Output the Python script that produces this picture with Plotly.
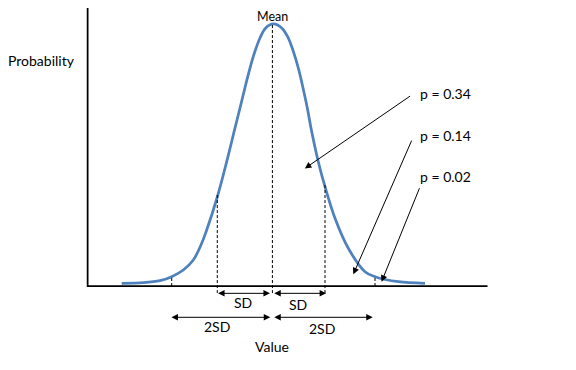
import plotly.graph_objects as go

# ---- data (value scale: mean 100, SD ~15; height relative to the axis height) ----
curve_x = [57.54, 63.66, 68.38, 71.70, 74.98, 77.81, 80.19, 81.60, 84.60, 87.26, 89.61,
           91.03, 92.64, 93.86, 95.27, 96.69, 98.30, 100.45, 102.83, 104.70, 106.11,
           107.53, 108.66, 110.08, 111.12, 113.19, 115.09, 117.92, 121.68, 126.41,
           129.24, 135.83, 143.39]
curve_y = [0.0096, 0.0117, 0.0188, 0.0330, 0.0567, 0.0922, 0.1514, 0.1986, 0.3156, 0.4408, 0.5603,
           0.6312, 0.7138, 0.7730, 0.8323, 0.8794, 0.9149, 0.9291, 0.9149, 0.8794, 0.8323,
           0.7730, 0.7138, 0.6312, 0.5603, 0.4408, 0.3521, 0.2401, 0.1337, 0.0507,
           0.0330, 0.0152, 0.0096]

guide_x = [71.7, 84.6, 100.2, 115.09, 129.24]
guide_top = [0.036, 0.330, 0.929, 0.360, 0.036]
guide_bottom = [0.0, -0.025, -0.025, -0.025, 0.0]

axis_x = [47.9, 161.1]
axis_top = 1.0

sd_labels = ["SD", "SD", "2SD", "2SD"]
sd_start = [84.4, 100.3, 71.2, 100.3]
sd_end = [99.5, 115.4, 99.6, 128.6]
sd_y = [-0.026, -0.026, -0.111, -0.111]
sd_label_x = [91.9, 107.4, 84.4, 114.2]
sd_label_y = [-0.059, -0.064, -0.144, -0.150]

p_labels = ["p = 0.34", "p = 0.14", "p = 0.02"]
p_label_x = [141.5, 141.5, 141.5]
p_label_y = [0.683, 0.535, 0.388]
p_tail_x = [139.6, 139.8, 142.0]
p_tail_y = [0.677, 0.521, 0.352]
p_head_x = [109.4, 123.1, 131.1]
p_head_y = [0.417, 0.0415, 0.0152]

FONT = "Lato"
FS = 14

fig = go.Figure()

# curve
fig.add_trace(go.Scatter(x=curve_x, y=curve_y, mode="lines",
                         line=dict(color="#4F81BD", width=2.75, shape="spline", smoothing=1.0),
                         hoverinfo="skip", showlegend=False))

# dashed guides
for gx, gt, gb in zip(guide_x, guide_top, guide_bottom):
    fig.add_trace(go.Scatter(x=[gx, gx], y=[gb, gt], mode="lines",
                             line=dict(color="black", width=1, dash="3px,2px"),
                             hoverinfo="skip", showlegend=False))

# axes lines
fig.add_trace(go.Scatter(x=[axis_x[0], axis_x[0], axis_x[1]], y=[axis_top, 0, 0], mode="lines",
                         line=dict(color="black", width=1.75),
                         hoverinfo="skip", showlegend=False))

annotations = []
# SD arrows
for s, e, y in zip(sd_start, sd_end, sd_y):
    annotations.append(dict(x=e, y=y, ax=s, ay=y, xref="x", yref="y", axref="x", ayref="y",
                            text="", showarrow=True, arrowhead=2, arrowsize=1.3, arrowwidth=1,
                            arrowside="end+start", arrowcolor="black", standoff=0, startstandoff=0))
for t, x, y in zip(sd_labels, sd_label_x, sd_label_y):
    annotations.append(dict(x=x, y=y, xref="x", yref="y", text=t, showarrow=False,
                            font=dict(family=FONT, size=FS, color="black")))

# p arrows
for tx, ty, hx, hy in zip(p_tail_x, p_tail_y, p_head_x, p_head_y):
    annotations.append(dict(x=hx, y=hy, ax=tx, ay=ty, xref="x", yref="y", axref="x", ayref="y",
                            text="", showarrow=True, arrowhead=2, arrowsize=1.3, arrowwidth=1,
                            arrowcolor="black", standoff=0))
for t, x, y in zip(p_labels, p_label_x, p_label_y):
    annotations.append(dict(x=x, y=y, xref="x", yref="y", text=t, showarrow=False,
                            xanchor="left", font=dict(family=FONT, size=FS, color="black")))

# titles
annotations.append(dict(x=100.2, y=0.9855, xref="x", yref="y", text="Mean", showarrow=False,
                        yanchor="top", borderpad=0,
                        font=dict(family=FONT, size=12.5, color="black")))
annotations.append(dict(x=100.0, y=-0.213, xref="x", yref="y", text="Value", showarrow=False,
                        font=dict(family=FONT, size=FS, color="black")))
annotations.append(dict(x=34.7, y=0.798, xref="x", yref="y", text="Probability", showarrow=False,
                        font=dict(family=FONT, size=FS, color="black")))

fig.update_layout(
    width=576, height=370, autosize=False,
    margin=dict(l=0, r=0, t=0, b=0),
    paper_bgcolor="white", plot_bgcolor="white",
    # ranges offset to compensate the page's 8px body margin
    xaxis=dict(range=[25.36, 188.40], visible=False, fixedrange=True),
    yaxis=dict(range=[-0.3262, 0.9858], visible=False, fixedrange=True),
    annotations=annotations,
    showlegend=False,
)

fig.write_html("out.html")
